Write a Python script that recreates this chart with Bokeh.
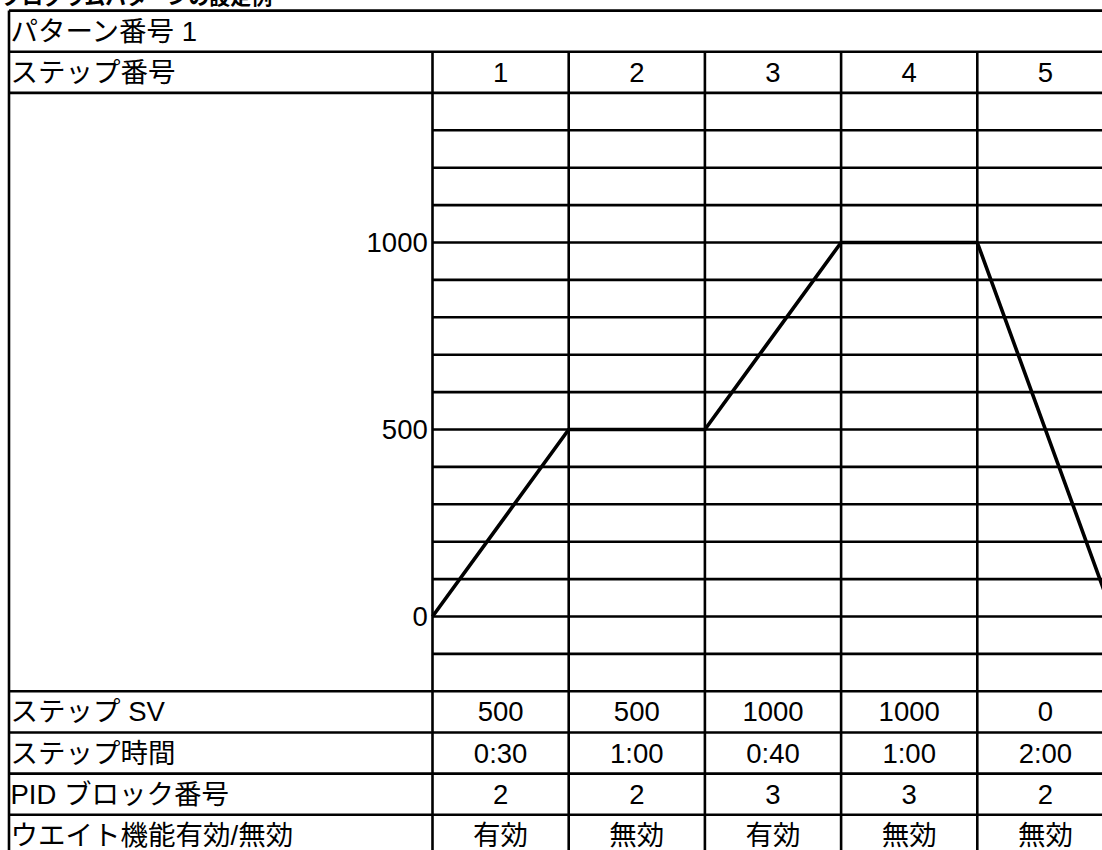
from bokeh.plotting import figure
from bokeh.models import Range1d
from bokeh.core.properties import value
from bokeh.embed import file_html
from bokeh.resources import INLINE

# ---------------- data ----------------
title = "プログラムパターンの設定例"
pattern_label = "パターン番号 1"
row_labels = ["ステップ番号", "ステップ SV", "ステップ時間", "PID ブロック番号", "ウエイト機能有効/無効"]
steps = ["1", "2", "3", "4", "5"]
start_sv = 0
step_sv = [500, 500, 1000, 1000, 0]
step_time = ["0:30", "1:00", "0:40", "1:00", "2:00"]
pid_block = ["2", "2", "3", "3", "2"]
wait_mode = ["有効", "無効", "有効", "無効", "無効"]
y_ticks = [0, 500, 1000]
y_grid = [-100, 0, 100, 200, 300, 400, 500, 600, 700, 800, 900, 1000, 1100, 1200, 1300]

# ---------------- geometry ----------------
PXX = 136.2          # px per step column
PXY = 0.374          # px per SV unit
X0_PAGE = 432        # page x of step 0 boundary
Y0_PAGE = 616        # page y of SV 0
x_start = (0 - X0_PAGE) / PXX
x_end = (1102 - X0_PAGE) / PXX
y_top = (Y0_PAGE + 8) / PXY
y_bot = (Y0_PAGE - 850) / PXY
x_left = (8.5 - X0_PAGE) / PXX
x_far = x_end + 0.5
ROW = 110
chart_lo, chart_hi = -200, 1400
top_rows = [chart_hi, chart_hi + ROW, chart_hi + 2 * ROW]
bot_rows = [chart_lo - ROW * k for k in range(0, 5)]

FONT = value("Liberation Sans, Noto Sans CJK JP")
FS = "27.5px"

p = figure(width=1102, height=858, x_range=Range1d(x_start, x_end),
           y_range=Range1d(y_bot, y_top), output_backend="svg",
           toolbar_location=None, min_border=0, outline_line_color=None,
           x_axis_type=None, y_axis_type=None)
p.grid.visible = False
p.styles = {"margin-top": "-8px"}

LW = 2.6
# grid lines inside chart (step columns only)
p.segment(x0=[0] * len(y_grid), x1=[x_far] * len(y_grid), y0=y_grid, y1=y_grid,
          line_color="black", line_width=LW)
# full-width horizontal rules
hr = [top_rows[2], top_rows[1], top_rows[0]] + bot_rows
p.segment(x0=[x_left] * len(hr), x1=[x_far] * len(hr), y0=hr, y1=hr,
          line_color="black", line_width=LW)
# left border
p.segment(x0=[x_left], x1=[x_left], y0=[y_bot - 50], y1=[top_rows[2]],
          line_color="black", line_width=LW)
# column boundaries
cols = list(range(0, len(steps) + 1))
p.segment(x0=cols, x1=cols, y0=[y_bot - 50] * len(cols), y1=[top_rows[1]] * len(cols),
          line_color="black", line_width=LW)

# SV profile
px = list(range(0, len(steps) + 1))
py = [start_sv] + step_sv
p.line(px, py, line_color="black", line_width=3.6)

# title (partly above the page, as in the reference)
p.text(x=[x_start + 0.003], y=[(Y0_PAGE + 4) / PXY], text=[title],
       text_font=FONT, text_font_size="21px", text_font_style="bold",
       text_baseline="middle", text_align="left", text_color="black")

# row labels
lab_x = (10 - X0_PAGE) / PXX
label_y = [(top_rows[1] + top_rows[2]) / 2, (top_rows[0] + top_rows[1]) / 2] + \
          [(bot_rows[k] + bot_rows[k + 1]) / 2 for k in range(4)]
p.text(x=[lab_x] * 6, y=label_y, text=[pattern_label] + row_labels,
       text_font=FONT, text_font_size=FS, text_baseline="middle",
       text_align="left", text_color="black")

# y tick labels
p.text(x=[-0.035] * len(y_ticks), y=y_ticks, text=[str(v) for v in y_ticks],
       text_font=FONT, text_font_size=FS, text_baseline="middle",
       text_align="right", text_color="black")

# cell values
cx = [i + 0.5 for i in range(len(steps))]
rows_vals = [
    ((top_rows[0] + top_rows[1]) / 2, steps),
    (label_y[2], [str(v) for v in step_sv]),
    (label_y[3], step_time),
    (label_y[4], pid_block),
    (label_y[5], wait_mode),
]
for yy, vals in rows_vals:
    p.text(x=cx, y=[yy] * len(cx), text=vals, text_font=FONT, text_font_size=FS,
           text_baseline="middle", text_align="center", text_color="black")

open("out.html", "w").write(file_html(p, INLINE))
